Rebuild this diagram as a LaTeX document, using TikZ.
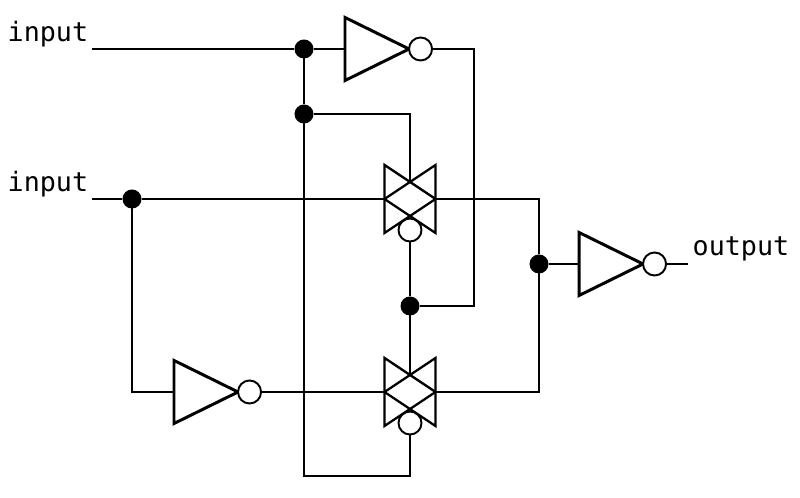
\documentclass[tikz,border=0pt]{standalone}
\usepackage{fontspec}
\setmonofont{DejaVu Sans Mono}
\usetikzlibrary{calc,positioning,shapes.geometric}
\tikzset{%
	wire/.style     = {line width=0.66pt},
	dot/.style      = {circle, fill=black, inner sep=0pt, outer sep=0pt, minimum size=0.19cm}, % Junction
	bubble/.style   = {draw, circle, fill=white, line width=0.55pt, inner sep=0pt, outer sep=0pt, minimum size=0.23cm},
	inverter/.style = {draw, isosceles triangle, isosceles triangle stretches, line width=0.85pt, inner sep=0pt, outer sep=0pt, minimum width=0.63cm, minimum height=0.64cm, anchor=lower side},
	tgate/.style    = {rectangle, inner sep=0pt, outer sep=0pt, minimum width=0.51cm, minimum height=0.68cm},
	label/.style    = {inner sep=0pt, anchor=base west, font=\ttfamily\fontsize{7.6pt}{9pt}\selectfont},
}
\begin{document}
\begin{tikzpicture}[x=0.01cm,y=-0.01cm]
	\useasboundingbox (0,0) rectangle (800,498);
	\node[label] (inputA) at (7,42) {input};
	\node[label] (inputB) at (7,192) {input};
	\node[label] (output) at (692,256) {output};
	\coordinate (inA) at (92,49);
	\coordinate (inB) at (92,199);
	\coordinate (outEnd) at (688,264);

	% inverters with their bubbles
	\node[inverter] (invA) at (345,49) {};
	\node[bubble,right=0pt of invA.apex] (bubA) {};
	\node[inverter] (invB) at (174,392) {};
	\node[bubble,right=0pt of invB.apex] (bubB) {};
	\node[inverter] (invC) at (579,264) {};
	\node[bubble,right=0pt of invC.apex] (bubC) {};

	% transmission gates
	\node[tgate] (gateA) at (410,199) {};
	\node[tgate] (gateB) at (410,392) {};
	\foreach \g in {gateA,gateB} {
		\draw[wire] (\g.north west) -- (\g.east) -- (\g.south west) -- cycle;
		\draw[wire] (\g.north east) -- (\g.west) -- (\g.south east) -- cycle;
		\coordinate (\g top) at ($(\g.north)!0.5!(\g.center)$);
		\node[bubble,fill=none] (\g bub) at ($(\g.south)+(0,-3)$) {};
	}
	\coordinate (gateBend) at (304,476);
	\coordinate (gateTurn) at (474,306);

	% junctions
	\node[dot] (dotA) at (304,49) {};
	\node[dot] (dotB) at (304,114) {};
	\node[dot] (dotC) at (132,199) {};
	\node[dot] (dotD) at (410,306) {};
	\node[dot] (dotE) at (539,264) {};

	\draw[wire] (inA) -- (dotA) -- (invA.lower side);
	\draw[wire] (dotA) -- (dotB) -- (gateBend) -| (gateBbub.south);
	\draw[wire] (dotB) -| (gateAtop);
	\draw[wire] (bubA.east) -| (gateTurn) -- (dotD);
	\draw[wire] (inB) -- (dotC) -- (gateA.west);
	\draw[wire] (dotC) |- (invB.lower side);
	\draw[wire] (bubB.east) -- (gateB.west);
	\draw[wire] (gateAbub.south) -- (dotD) -- (gateBtop);
	\draw[wire] (gateA.east) -| (dotE) |- (gateB.east);
	\draw[wire] (dotE) -- (invC.lower side);
	\draw[wire] (bubC.east) -- (outEnd);
\end{tikzpicture}
\end{document}
